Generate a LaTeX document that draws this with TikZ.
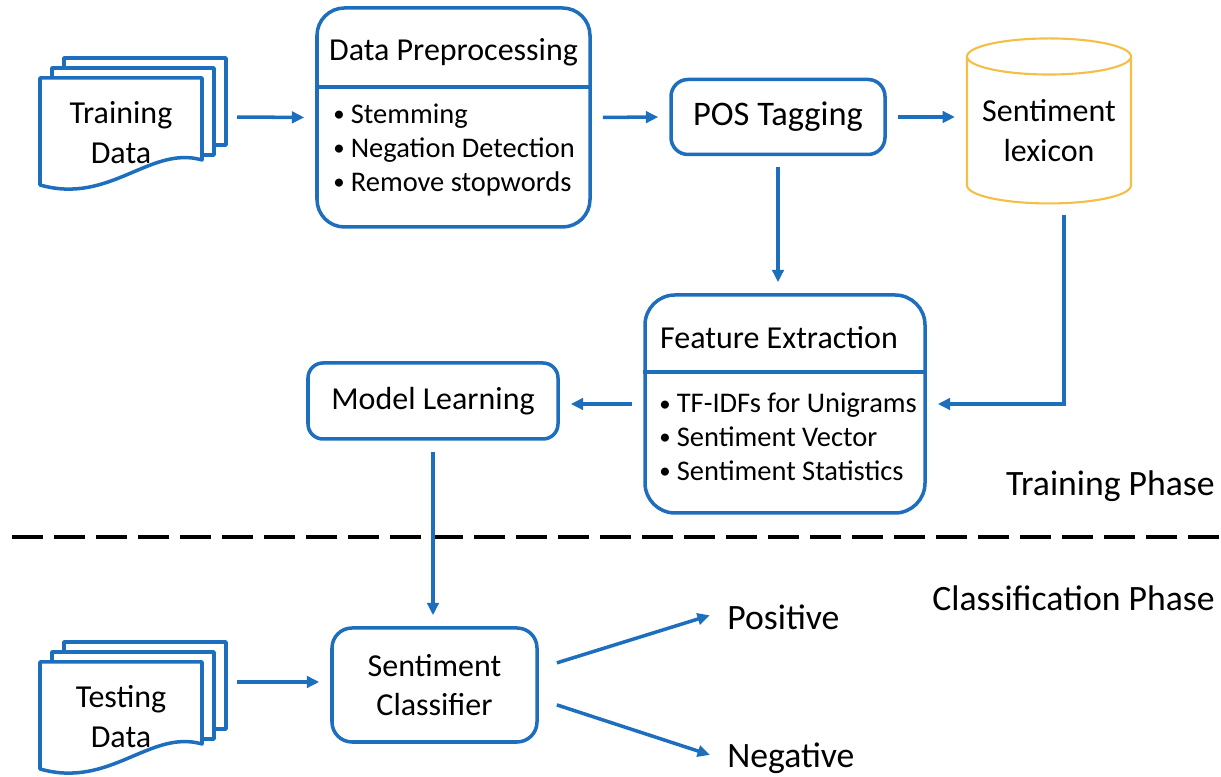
\documentclass[tikz,border=0pt]{standalone}
\usepackage{fontspec}
\setmainfont{Carlito}
\usepackage{graphicx}
\usepackage{tikz}
\usetikzlibrary{calc,arrows.meta,shapes.geometric}
\definecolor{flow}{HTML}{1E6EBE}
\definecolor{lexgold}{HTML}{F5BE46}
\newcommand{\fsbig}{\fontsize{18.2}{22.4}\selectfont}
\newcommand{\fsitem}{\fontsize{16.2}{19.3}\selectfont}
\newcommand{\fstag}{\fontsize{19.6}{23}\selectfont}
\newcommand{\fslarge}{\fontsize{20.3}{24}\selectfont}
\newcommand{\itm}{\makebox[0.39cm][l]{\hspace{0.04cm}\raisebox{0.06em}{\scalebox{0.8}{\textbullet}}}}
\tikzset{
  box/.style={draw=flow, line width=2pt, fill=white, align=center, inner sep=0pt, font=\fsbig},
  head/.style={font=\fsbig, align=center, inner sep=0pt},
  items/.style={font=\fsitem, align=left, inner sep=0pt, anchor=west},
  flowarr/.style={draw=flow, line width=2pt, -{Triangle[length=7pt,width=6.5pt]}, shorten >=0.22cm, shorten <=0.22cm},
  sheet/.style={draw=flow, line width=2pt, fill=white, line join=round},
  split/.style={draw=flow, line width=2pt},
  divide/.style={draw=black, line width=1.8pt, dash pattern=on 0.62cm off 0.22cm},
  phase/.style={font=\fslarge, inner sep=0pt, anchor=east},
  outcome/.style={font=\fslarge, inner sep=0pt, anchor=west},
  lexicon/.style={cylinder, shape border rotate=90, aspect=0.27, draw=lexgold, line width=1.2pt, minimum width=3.28cm, minimum height=3.30cm, inner sep=0pt, align=center, font=\fsbig},
}
% stack of three sheets, top left corner of the front sheet at (#1,#2)
\newcommand{\docstack}[2]{%
  \begin{scope}[shift={(#1,#2)}]
    \draw[sheet] (0.48,0.40) rectangle (3.72,-1.34);
    \draw[sheet] (0.24,0.20) rectangle (3.48,-1.54);
    \draw[sheet] (0,0) -- (3.24,0) -- (3.24,-1.64)
      .. controls (2.20,-1.34) and (1.40,-2.54) .. (0,-2.14) -- cycle;
  \end{scope}}

\begin{document}
\begin{tikzpicture}
  \useasboundingbox (0,0) rectangle (24.42,15.54);

  % training phase
  \docstack{0.80}{13.98}
  \node[head] (train) at (2.42,12.89) {Training\\Data};
  \coordinate (trainR) at (4.52,13.20);

  \node[box, rounded corners=0.55cm, minimum width=5.46cm, minimum height=4.38cm] (prep) at (9.07,13.19) {};
  \draw[split] (prep.west |- 0,13.80) -- (prep.east |- 0,13.80);
  \node[head] (preph) at (9.07,14.50) {Data Preprocessing};
  \node[items] (prepl) at (6.62,12.54) {\itm Stemming\\\itm Negation Detection\\\itm Remove stopwords};

  \node[box, rounded corners=0.34cm, minimum width=4.28cm, minimum height=1.50cm, font=\fstag] (tag) at (15.56,13.20) {POS Tagging};
  \node[lexicon] (lex) at (20.98,12.93) {Sentiment\\lexicon};

  \node[box, rounded corners=0.6cm, minimum width=5.60cm, minimum height=4.36cm] (feat) at (15.70,7.46) {};
  \draw[split] (feat.west |- 0,8.10) -- (feat.east |- 0,8.10);
  \node[head] (feath) at (15.58,8.78) {Feature Extraction};
  \node[items] (featl) at (13.14,6.80) {\itm TF-IDFs for Unigrams\\\itm Sentiment Vector\\\itm Sentiment Statistics};

  \node[box, rounded corners=0.3cm, minimum width=5.0cm, minimum height=1.52cm] (model) at (8.66,7.52) {Model Learning};

  \draw[flowarr] (trainR) -- (prep.west);
  \draw[flowarr] (prep.east) -- (tag.west);
  \draw[flowarr] (tag.east) -- (tag.east -| lex.west);
  \draw[flowarr] (tag.south) -- (tag.south |- feat.north);
  \draw[flowarr] ([xshift=0.30cm]lex.south) |- (feat.east);
  \draw[flowarr] (feat.west) -- (feat.west -| model.east);

  % phases
  \draw[divide] (0.24,4.80) -- (24.42,4.80);
  \node[phase] (trainph) at (24.30,5.82) {Training Phase};
  \node[phase] (classph) at (24.30,3.58) {Classification Phase};

  % classification phase
  \docstack{0.80}{2.30}
  \node[head] (test) at (2.42,1.21) {Testing\\Data};
  \coordinate (testR) at (4.52,1.90);
  \node[box, rounded corners=0.4cm, minimum width=4.10cm, minimum height=2.28cm] (cls) at (8.69,1.84) {Sentiment\\Classifier};
  \node[outcome] (posv) at (14.54,3.20) {Positive};
  \node[outcome] (negv) at (14.54,0.38) {Negative};

  \draw[flowarr] (model.south) -- (model.south |- cls.north);
  \draw[flowarr] (testR) -- (testR -| cls.west);
  \draw[flowarr, shorten <=0.38cm, shorten >=0.36cm] ([yshift=0.33cm]cls.east) -- ([yshift=0.14cm]posv.west);
  \draw[flowarr, shorten <=0.38cm, shorten >=0.36cm] ([yshift=-0.28cm]cls.east) -- ([yshift=-0.05cm]negv.west);
\end{tikzpicture}
\end{document}
